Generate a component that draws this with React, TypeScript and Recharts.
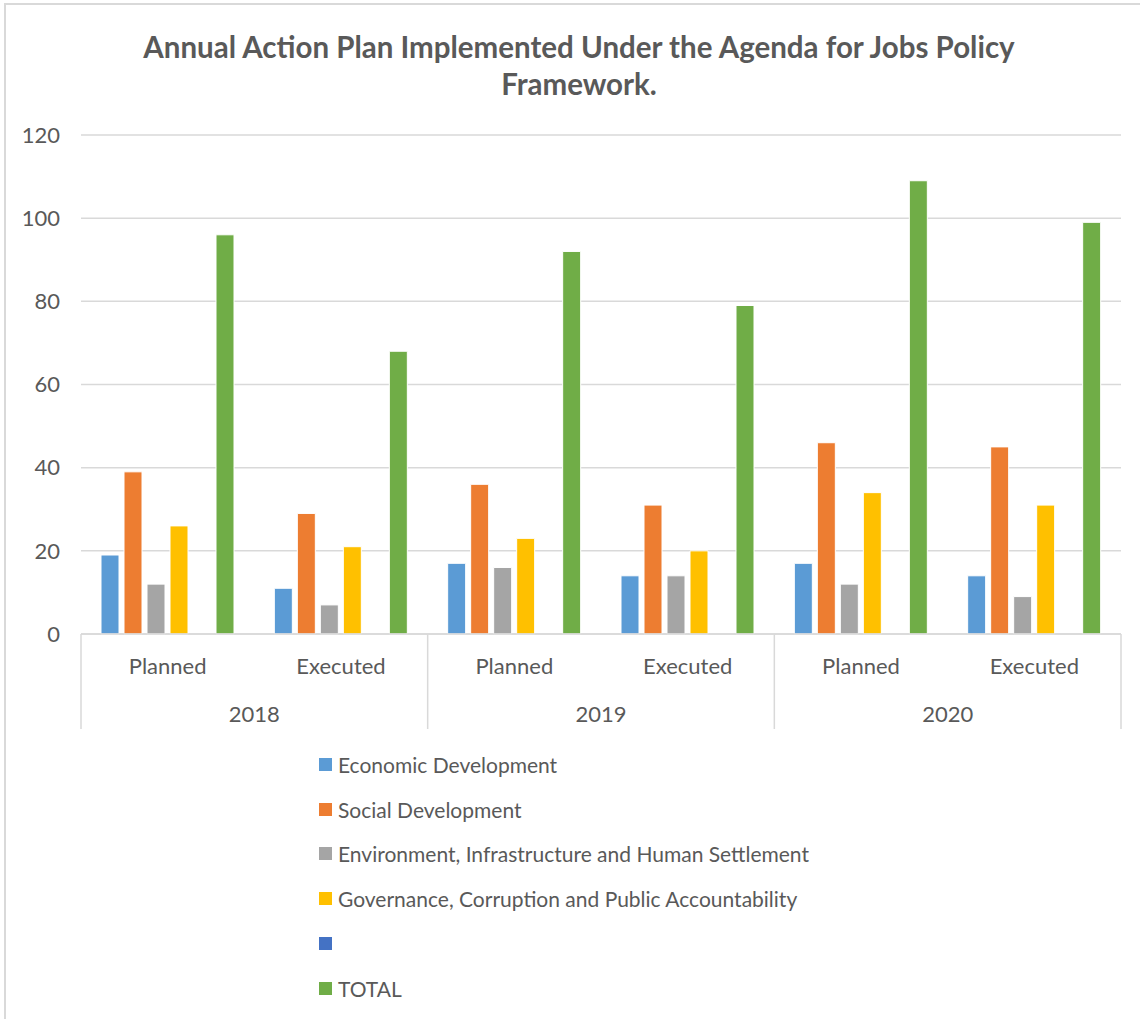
import React from 'react';
import { BarChart, Bar, XAxis, YAxis, CartesianGrid, Legend } from 'recharts';

const categories = ['Planned', 'Executed', 'Planned', 'Executed', 'Planned', 'Executed'];
const years = ['2018', '2018', '2019', '2019', '2020', '2020'];
const economic = [19, 11, 17, 14, 17, 14];
const social = [39, 29, 36, 31, 46, 45];
const environment = [12, 7, 16, 14, 12, 9];
const governance = [26, 21, 23, 20, 34, 31];
const blank: (number | null)[] = [null, null, null, null, null, null];
const total = [96, 68, 92, 79, 109, 99];
const yTicks = [0, 20, 40, 60, 80, 100, 120];

const series = [
  { key: 'economic', name: 'Economic Development', color: '#5B9BD5' },
  { key: 'social', name: 'Social Development', color: '#ED7D31' },
  { key: 'environment', name: 'Environment, Infrastructure and Human Settlement', color: '#A5A5A5' },
  { key: 'governance', name: 'Governance, Corruption and Public Accountability', color: '#FFC000' },
  { key: 'blank', name: '', color: '#4472C4' },
  { key: 'total', name: 'TOTAL', color: '#70AD47' },
];

const data = categories.map((c, i) => ({
  key: `${years[i]}-${c}`,
  economic: economic[i],
  social: social[i],
  environment: environment[i],
  governance: governance[i],
  blank: blank[i],
  total: total[i],
}));

const W = 1140;
const H = 1019;
const LEGEND_ROW = 44.8;
const LEGEND_H = LEGEND_ROW * series.length;
const M = { top: 135, right: 19, left: 21, bottom: 290 - LEGEND_H };
const Y_W = 60;
const X_H = 95;
const PLOT_W = W - M.left - M.right - Y_W;
const CAT_W = PLOT_W / categories.length;
const FONT = "Lato, 'Open Sans', sans-serif";
const TXT = '#595959';
const GRID = '#d9d9d9';

const CategoryTick = (props: any) => {
  const { x, y, index } = props;
  const i = index ?? props.payload?.index ?? 0;
  const left = x - CAT_W / 2;
  const right = x + CAT_W / 2;
  return (
    <g>
      <text x={x} y={y + 40} textAnchor="middle" fill={TXT} fontSize={22} fontFamily={FONT}>
        {categories[i]}
      </text>
      {i % 2 === 0 && (
        <>
          <line x1={left} y1={y} x2={left} y2={y + X_H} stroke={GRID} strokeWidth={1.5} />
          <text x={right} y={y + 88} textAnchor="middle" fill={TXT} fontSize={22} fontFamily={FONT}>
            {years[i]}
          </text>
        </>
      )}
      {i === categories.length - 1 && (
        <line x1={right} y1={y} x2={right} y2={y + X_H} stroke={GRID} strokeWidth={1.5} />
      )}
    </g>
  );
};

const LegendContent = () => (
  <div style={{ fontFamily: FONT, fontSize: 21, color: TXT }}>
    {series.map((s) => (
      <div key={s.key} style={{ height: LEGEND_ROW, display: 'flex', alignItems: 'center' }}>
        <span style={{ display: 'inline-block', width: 13, height: 13, background: s.color, marginRight: 6 }} />
        <span style={{ whiteSpace: 'nowrap' }}>{s.name}</span>
      </div>
    ))}
  </div>
);

export default function App() {
  return (
    <div style={{ position: 'absolute', left: 0, top: 0, width: W, height: H, overflow: 'hidden', background: '#fff' }}>
      <div
        style={{
          position: 'absolute', left: 4, top: 3, width: W, height: H,
          borderLeft: `2px solid ${GRID}`, borderTop: `2px solid ${GRID}`,
        }}
      />
      <div
        style={{
          position: 'absolute', left: 0, top: 28, width: 1158, textAlign: 'center',
          fontFamily: FONT, fontWeight: 700, fontSize: 29.5, lineHeight: '37px', color: TXT,
        }}
      >
        Annual Action Plan Implemented Under the Agenda for Jobs Policy
        <br />
        Framework.
      </div>
      <div style={{ position: 'absolute', left: 0, top: 0 }}>
        <BarChart width={W} height={H} data={data} margin={M} barCategoryGap={20} barGap={5}>
          <CartesianGrid vertical={false} stroke={GRID} strokeWidth={1.5} />
          <XAxis
            dataKey="key"
            type="category"
            height={X_H}
            axisLine={{ stroke: GRID, strokeWidth: 1.5 }}
            tickLine={false}
            tickSize={0}
            tickMargin={0}
            interval={0}
            tick={<CategoryTick />}
          />
          <YAxis
            width={Y_W}
            domain={[0, 120]}
            ticks={yTicks}
            axisLine={false}
            tickLine={false}
            tickSize={0}
            tickMargin={21}
            tick={{ fill: TXT, fontSize: 22, fontFamily: FONT }}
          />
          <Legend
            layout="vertical"
            align="center"
            verticalAlign="bottom"
            content={<LegendContent />}
            wrapperStyle={{ left: 319, top: 742, width: 600 }}
          />
          {series.map((s) => (
            <Bar
              key={s.key}
              dataKey={s.key}
              name={s.name}
              fill={s.color}
              stroke="#ffffff"
              strokeWidth={1}
              isAnimationActive={false}
            />
          ))}
        </BarChart>
      </div>
    </div>
  );
}
